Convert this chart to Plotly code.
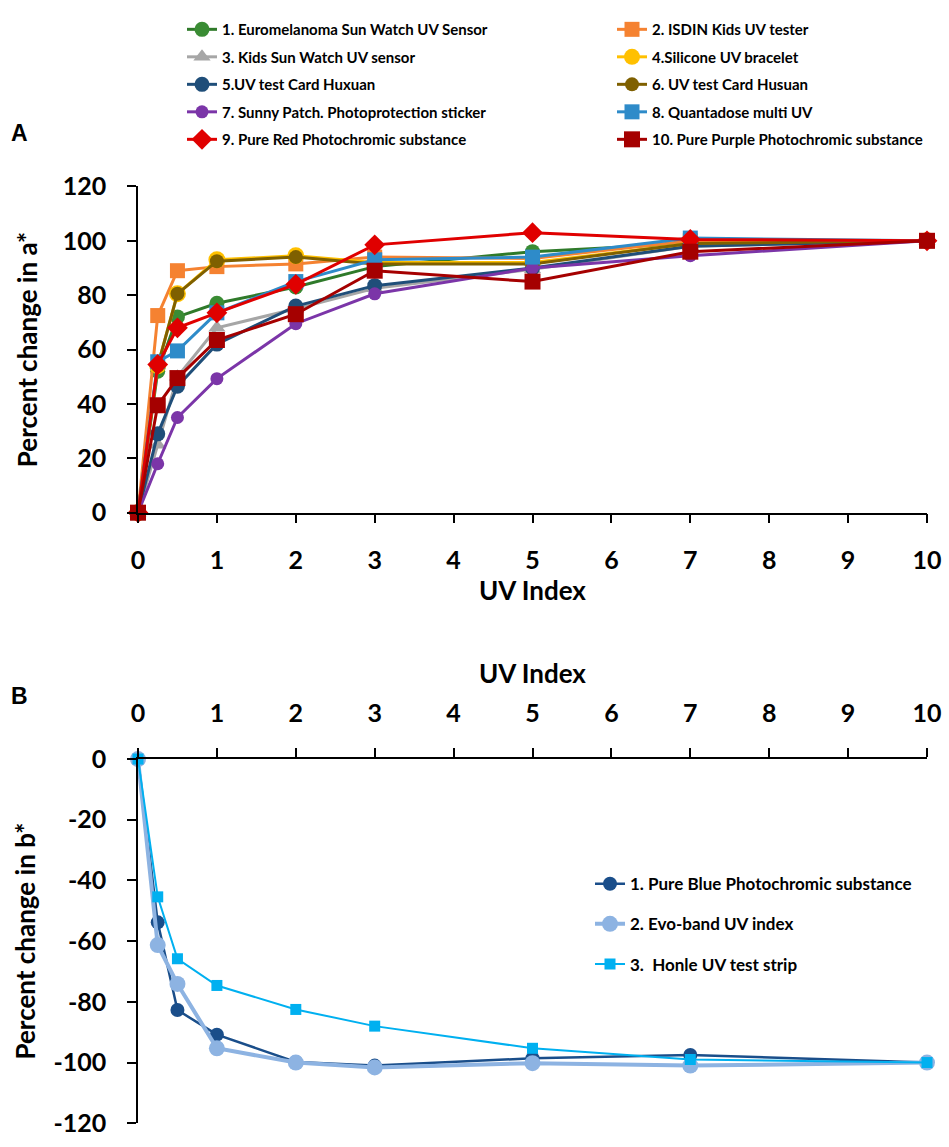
import plotly.graph_objects as go

# ---------------- data ----------------
uv_index = [0, 0.25, 0.5, 1, 2, 3, 5, 7, 10]

names_a = [
    "1. Euromelanoma Sun Watch UV Sensor",
    "2. ISDIN Kids UV tester",
    "3. Kids Sun Watch UV sensor",
    "4.Silicone UV bracelet",
    "5.UV test Card Huxuan",
    "6. UV test Card Husuan",
    "7. Sunny Patch. Photoprotection sticker",
    "8. Quantadose multi UV",
    "9. Pure Red Photochromic substance",
    "10. Pure Purple Photochromic substance",
]
euromelanoma = [0, 52, 72, 77, 83, 90.5, 96, 99, 100]
isdin = [0, 72.5, 89, 90.5, 91.5, 94, 93.5, 100, 100]
kids_sun_watch = [0, 25, 50, 68, 75, 82.5, 89.5, 98, 100]
silicone = [0, 54, 80.5, 93, 94.5, 92, 92, 99, 100]
card_huxuan = [0, 29, 46.5, 62, 76, 83.5, 90, 98, 100]
card_husuan = [0, 54, 80.5, 92.5, 94, 91.5, 91.5, 99, 100]
sunny_patch = [0, 18, 35, 49.3, 69.5, 80.5, 90, 94.5, 100]
quantadose = [0, 55.5, 59.5, 73.5, 85, 93, 94, 101, 100]
pure_red = [0, 54.5, 68, 73.5, 84, 98.5, 103, 100.5, 100]
pure_purple = [0, 39.5, 49.5, 63.5, 73, 89, 85, 96, 100]

names_b = [
    "1. Pure Blue Photochromic substance",
    "2. Evo-band UV index",
    "3.  Honle UV test strip",
]
pure_blue = [0, -53.8, -82.7, -90.8, -99.8, -101, -98.6, -97.5, -100]
evo_band = [0, -61.3, -74.1, -95.3, -100, -101.6, -100.2, -101, -100]
honle = [0, -45.4, -65.8, -74.6, -82.5, -88, -95.3, -99, -100]

x_ticks = [0, 1, 2, 3, 4, 5, 6, 7, 8, 9, 10]
ya_ticks = [0, 20, 40, 60, 80, 100, 120]
yb_ticks = [0, -20, -40, -60, -80, -100, -120]
yb_ticktext = ["0", "-20", "-40", "-60", "-80", "-100", "-120"]

# ---------------- styles ----------------
FONT = "Lato, 'Open Sans', Arial, sans-serif"
W, H = 949, 1147
ML, MR = 138, 22
PW = W - ML - MR

def py(px):
    return 1 - px / H

def pxx(px):
    return (px - ML) / PW

styles_a = [
    dict(color="#3A8C34", symbol="circle", size=15, lc="#2F7A2A", legend="legend"),
    dict(color="#F58231", symbol="square", size=15, lc="#F58231", legend="legend2"),
    dict(color="#A6A6A6", symbol="triangle-up", size=15, lc="#A6A6A6", legend="legend"),
    dict(color="#FFC000", symbol="circle", size=17, lc="#FFC000", legend="legend2"),
    dict(color="#1F4E79", symbol="circle", size=15, lc="#1F4E79", legend="legend"),
    dict(color="#7F6000", symbol="circle", size=14, lc="#7F6000", legend="legend2"),
    dict(color="#7B35A8", symbol="circle", size=13, lc="#7B35A8", legend="legend"),
    dict(color="#2E8BC9", symbol="square", size=15, lc="#2E8BC9", legend="legend2"),
    dict(color="#E00000", symbol="diamond", size=16, lc="#E00000", legend="legend"),
    dict(color="#A50000", symbol="square", size=16, lc="#A50000", legend="legend2"),
]
series_a = [euromelanoma, isdin, kids_sun_watch, silicone, card_huxuan,
            card_husuan, sunny_patch, quantadose, pure_red, pure_purple]

fig = go.Figure()

for i, (name, vals, st) in enumerate(zip(names_a, series_a, styles_a)):
    fig.add_trace(go.Scatter(
        x=uv_index, y=vals, name=name, mode="lines+markers",
        line=dict(color=st["lc"], width=3),
        marker=dict(color=st["color"], symbol=st["symbol"], size=st["size"],
                    line=dict(width=0)),
        xaxis="x", yaxis="y", legend=st["legend"], legendgroup="a%d" % i,
        cliponaxis=False,
    ))

styles_b = [
    dict(color="#1A4E8A", symbol="circle", size=14, width=2.5),
    dict(color="#8DB3E2", symbol="circle", size=16, width=4),
    dict(color="#00B0F0", symbol="square", size=11, width=2),
]
for i, (name, vals, st) in enumerate(zip(names_b, [pure_blue, evo_band, honle], styles_b)):
    fig.add_trace(go.Scatter(
        x=uv_index, y=vals, name=name, mode="lines+markers",
        line=dict(color=st["color"], width=st["width"]),
        marker=dict(color=st["color"], symbol=st["symbol"], size=st["size"]),
        xaxis="x2", yaxis="y2", legend="legend3", legendgroup="b%d" % i,
        cliponaxis=False,
    ))

tickfont = dict(family=FONT, size=25, color="black", weight="bold")
titlefont = dict(family=FONT, size=26, color="black", weight="bold")
axis_common = dict(showline=True, linecolor="black", linewidth=1.5,
                   ticks="outside", ticklen=9, tickwidth=1.5, tickcolor="black",
                   showgrid=False, zeroline=False, tickfont=tickfont,
                   ticklabelstandoff=16)

legfont = dict(family=FONT, size=15, color="black", weight="bold")

fig.update_layout(
    width=W, height=H,
    margin=dict(l=ML, r=MR, t=0, b=0),
    paper_bgcolor="white", plot_bgcolor="white",
    xaxis=dict(domain=[0, 1], range=[0, 10], anchor="y", tickvals=x_ticks,
               **axis_common),
    yaxis=dict(domain=[py(510), py(175)], range=[0, 120], anchor="x",
               tickvals=ya_ticks,
               title=dict(text="Percent change in a*", font=titlefont, standoff=18),
               **axis_common),
    xaxis2=dict(domain=[0, 1], range=[0, 10], anchor="y2", side="top",
                tickvals=x_ticks,
                title=dict(text="UV Index", font=titlefont, standoff=6),
                **axis_common),
    yaxis2=dict(domain=[py(1137), py(763)], range=[-120, 0], anchor="x2",
                tickvals=yb_ticks, ticktext=yb_ticktext,
                title=dict(text="Percent change in b*", font=titlefont, standoff=10),
                **axis_common),
    legend=dict(x=pxx(182), y=py(-3), xanchor="left", yanchor="top",
                font=legfont, tracegroupgap=5, itemwidth=30, bgcolor="rgba(0,0,0,0)"),
    legend2=dict(x=pxx(612), y=py(-3), xanchor="left", yanchor="top",
                 font=legfont, tracegroupgap=5, itemwidth=30, bgcolor="rgba(0,0,0,0)"),
    legend3=dict(x=pxx(590), y=py(873), xanchor="left", yanchor="top",
                 font=dict(family=FONT, size=17, color="black", weight="bold"),
                 tracegroupgap=15, itemwidth=30, bgcolor="rgba(0,0,0,0)"),
    annotations=[
        dict(text="UV Index", x=0.5, y=py(589), xref="paper", yref="paper",
             xanchor="center", yanchor="middle", showarrow=False, font=titlefont),
        dict(text="A", x=pxx(20), y=py(120), xref="paper", yref="paper",
             xanchor="center", yanchor="middle", showarrow=False,
             font=dict(family="Liberation Sans, Arial, sans-serif", size=23,
                       color="black", weight="bold")),
        dict(text="B", x=pxx(20), y=py(698), xref="paper", yref="paper",
             xanchor="center", yanchor="middle", showarrow=False,
             font=dict(family="Liberation Sans, Arial, sans-serif", size=23,
                       color="black", weight="bold")),
    ],
)

fig.write_html("out.html")
